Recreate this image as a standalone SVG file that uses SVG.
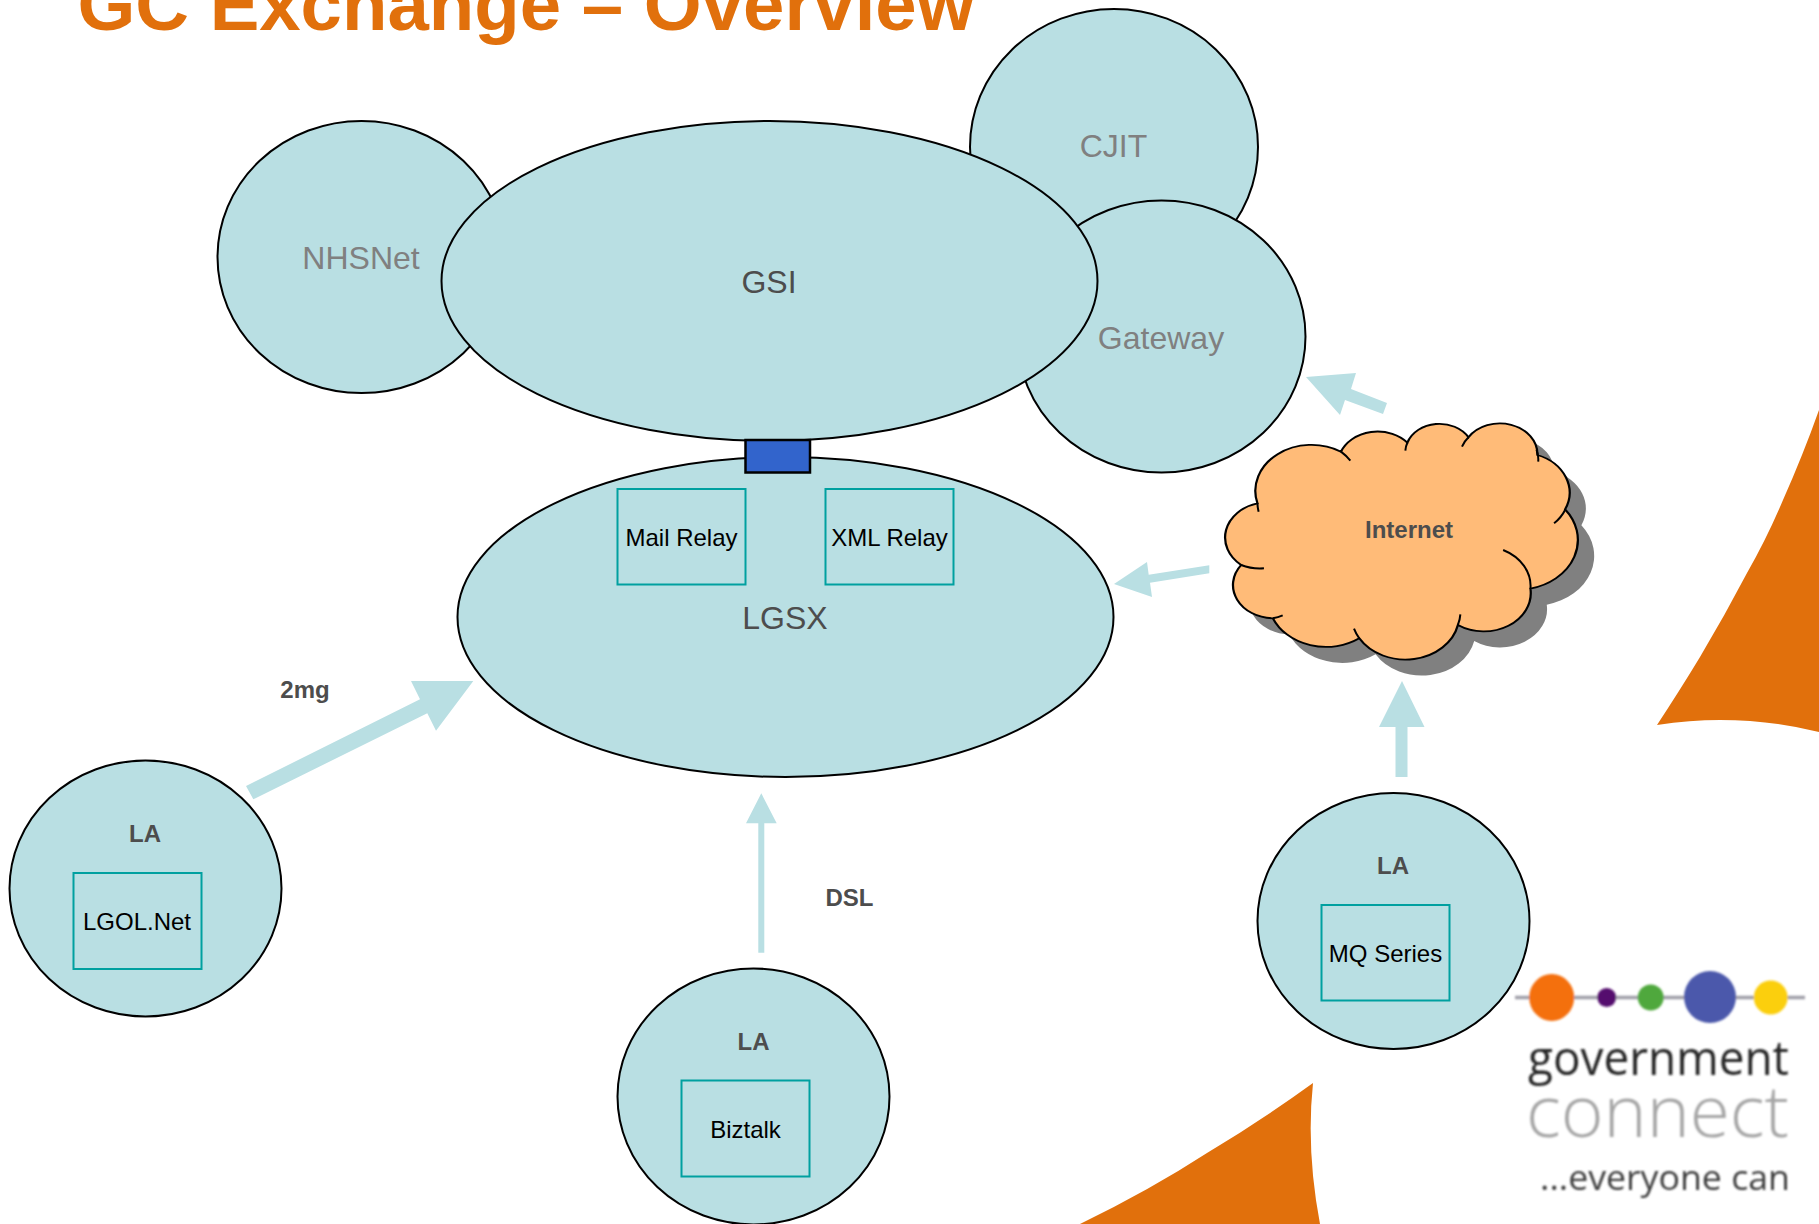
<svg xmlns="http://www.w3.org/2000/svg" width="1819" height="1224" viewBox="0 0 1819 1224">
<style>
text{font-family:"Liberation Sans",Arial,sans-serif;text-anchor:middle}
.n{fill:#b9dfe3;stroke:#000;stroke-width:2}
.box{fill:none;stroke:#00a0a0;stroke-width:2}
.a{fill:#b9dfe3;stroke:none}
.o{fill:#e1700c;stroke:none}
.g32{font-size:32px;fill:#808080}
.d32{font-size:32px;fill:#4d4d4d}
.b{font-size:24px;font-weight:700;fill:#4d4d4d}
.t{font-size:24px;fill:#000}
.logo{font-family:"Open Sans","Noto Sans",sans-serif;text-anchor:start}
.tail{fill:none;stroke:#000;stroke-width:2;vector-effect:non-scaling-stroke}
</style>
<defs>
<path id="cloud" d="M190,460A138,138 0 0 1 395,305A97,97 0 0 1 558,278A83,83 0 0 1 708,262A92,92 0 0 1 877,315A120,120 0 0 1 945,478A150,150 0 0 1 860,716A115,115 0 0 1 682,825A132,132 0 0 1 440,865A142,142 0 0 1 228,805A100,100 0 0 1 150,645A106,106 0 0 1 190,460Z"/>
<filter id="soft" x="-5%" y="-5%" width="110%" height="110%"><feGaussianBlur stdDeviation="1"/></filter>
</defs>
<rect width="1819" height="1224" fill="#fff"/>
<g id="decor">
<path class="o" d="M1657,725Q1680,690 1700,657Q1725,615 1747,573Q1767,538 1783,500Q1803,455 1819,410L1819,732Q1770,720 1720,720Q1690,720 1657,725Z"/>
<path class="o" d="M1313,1083Q1262,1120 1207,1153Q1150,1190 1080,1224L1320,1224Q1306,1150 1313,1083Z"/>
</g>
<g id="title"><text x="526" y="30" style="font-size:74.400px;font-weight:700;fill:#e1700c">GC Exchange – Overview</text></g>
<g id="node-cjit"><ellipse class="n" cx="1114" cy="147" rx="144" ry="138"/><text class="g32" x="1113.500" y="157">CJIT</text></g>
<g id="node-gateway"><ellipse class="n" cx="1161.500" cy="336.500" rx="144" ry="136"/><text class="g32" x="1161" y="349">Gateway</text></g>
<g id="node-nhsnet"><ellipse class="n" cx="361.500" cy="257" rx="144" ry="136"/><text class="g32" x="361" y="269">NHSNet</text></g>
<g id="node-gsi"><ellipse class="n" cx="769.500" cy="281" rx="328" ry="160"/><text class="d32" x="769" y="293">GSI</text></g>
<g id="node-lgsx"><ellipse class="n" cx="785.500" cy="617" rx="328" ry="160"/><text class="d32" x="785" y="629">LGSX</text>
<rect class="box" x="617.500" y="489" width="128" height="95.500"/><text class="t" x="681.500" y="546">Mail Relay</text>
<rect class="box" x="825.500" y="489" width="128" height="95.500"/><text class="t" x="889.500" y="546">XML Relay</text></g>
<g id="node-link"><rect x="745.500" y="440" width="64.500" height="32.500" fill="#3264cc" stroke="#000" stroke-width="2.500"/></g>
<g id="node-internet" transform="translate(1180 350) scale(.4075 .3333)">
<use href="#cloud" x="40" y="48" fill="#808080"/>
<use href="#cloud" fill="#ffbb78" stroke="#000" stroke-width="5.500"/>
<path class="tail" d="M395,305A138,138 0 0 1 418,332M553,302A83,83 0 0 1 558,278M692,290A92,92 0 0 1 708,262M875,300A92,92 0 0 1 879,335M945,480A120,120 0 0 1 918,520M793,600A120,120 0 0 1 860,716M688,793A132,132 0 0 1 682,825M440,865A132,132 0 0 1 427,836M252,796A100,100 0 0 1 228,805M206,655A106,106 0 0 1 150,645M193,485A138,138 0 0 1 190,460"/>
</g>
<g id="label-internet"><text class="b" x="1409" y="538">Internet</text></g>
<g id="node-la-left"><ellipse class="n" cx="145.500" cy="888.500" rx="136" ry="128"/><text class="b" x="145" y="842">LA</text>
<rect class="box" x="73.500" y="873" width="128" height="96"/><text class="t" x="137" y="929.500">LGOL.Net</text></g>
<g id="node-la-mid"><ellipse class="n" cx="753.500" cy="1096.500" rx="136" ry="128"/><text class="b" x="753.500" y="1050">LA</text>
<rect class="box" x="681.500" y="1080.500" width="128" height="96"/><text class="t" x="745.500" y="1138">Biztalk</text></g>
<g id="node-la-right"><ellipse class="n" cx="1393.500" cy="921" rx="136" ry="128"/><text class="b" x="1393" y="874">LA</text>
<rect class="box" x="1321.500" y="905" width="128" height="95.500"/><text class="t" x="1385.500" y="962">MQ Series</text></g>
<g id="connectors">
<polygon class="a" points="1306,377 1356,373 1351,389 1387,403 1383,414 1345,400 1340,415"/>
<polygon class="a" points="1402,681 1424.500,727 1407.500,727 1407.500,777 1395.500,777 1395.500,727 1379,727"/>
<polygon class="a" points="1114,584 1147,562 1148.700,574.700 1209.300,565.300 1209.300,573.300 1150,582.700 1152,597"/>
<polygon class="a" points="473.300,681 411,681 420,699.300 246,786 253.300,799.300 427.300,713.300 436,730.700"/>
<polygon class="a" points="761.300,793.300 776.700,823.300 764.300,823.300 764.300,952.700 758.300,952.700 758.300,823.300 746,823.300"/>
</g>
<g id="labels"><text class="b" x="305" y="698">2mg</text><text class="b" x="849.500" y="906">DSL</text></g>
<g id="logo">
<g filter="url(#soft)">
<line x1="1515" y1="997.500" x2="1805" y2="997.500" stroke="#a09fa8" stroke-width="3.500"/>
<ellipse cx="1551.700" cy="997.500" rx="22.500" ry="23.500" fill="#f46f10"/>
<circle cx="1606.700" cy="997.500" r="9.500" fill="#55106e"/>
<circle cx="1650.700" cy="997.500" r="13" fill="#4fa83c"/>
<circle cx="1710" cy="997" r="26" fill="#4c59ab"/>
<circle cx="1770.700" cy="997.500" r="17" fill="#fbcf10"/>
<text class="logo" x="1528" y="1075" font-size="47" fill="#262626" textLength="261" lengthAdjust="spacingAndGlyphs">government</text>
<text class="logo" x="1526" y="1137" font-size="72" font-weight="300" fill="#a6a6a6" textLength="263" lengthAdjust="spacingAndGlyphs">connect</text>
<text class="logo" x="1540" y="1190" font-size="34" fill="#3c3c3c" textLength="250" lengthAdjust="spacingAndGlyphs">...everyone can</text>
</g>
</g>
</svg>
